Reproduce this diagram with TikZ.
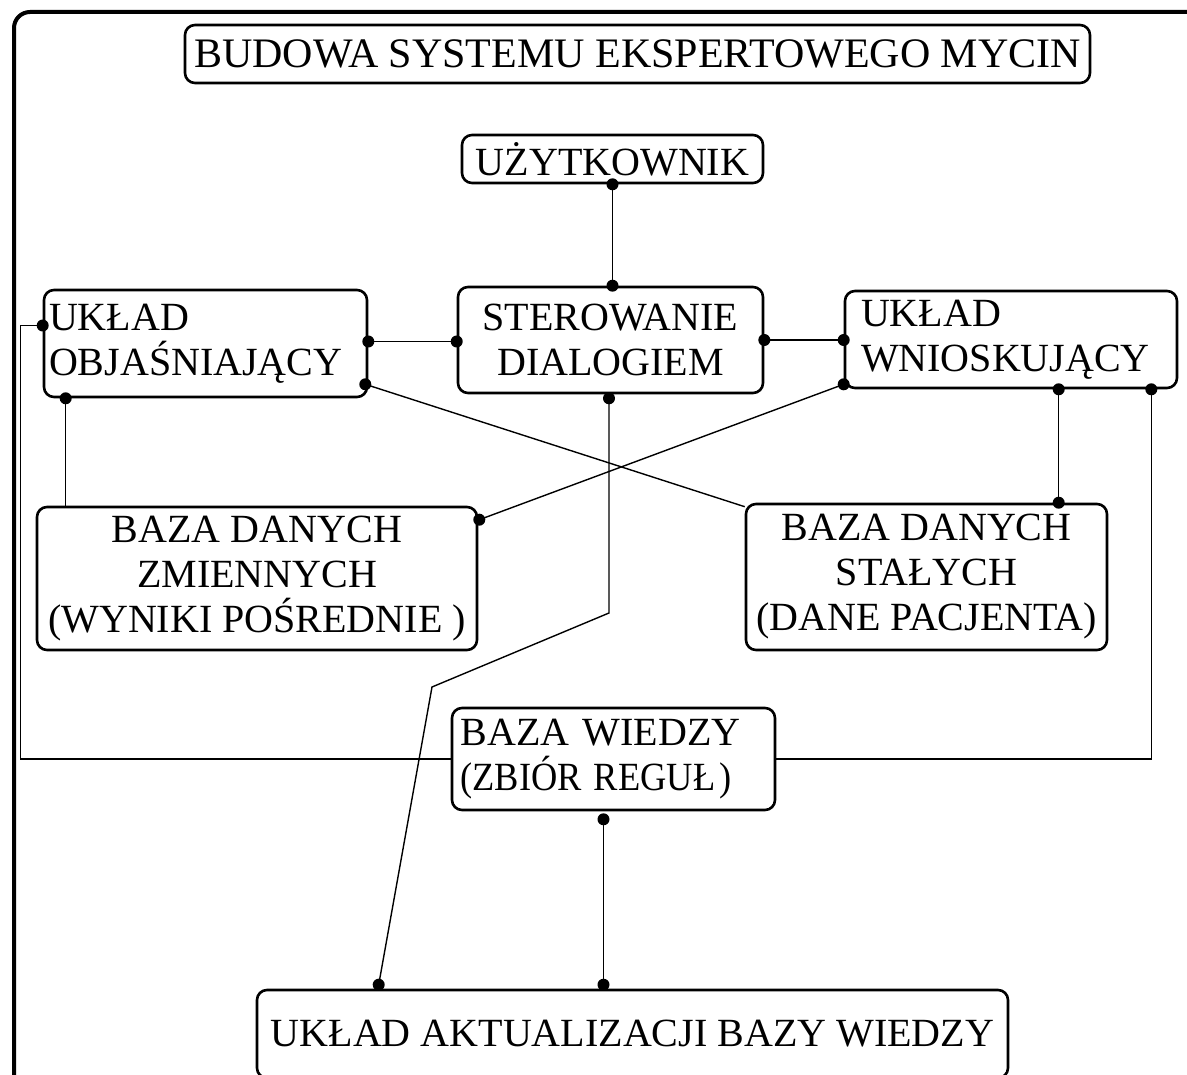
\documentclass[tikz,border=0pt]{standalone}
\usepackage{fontspec}
\setmainfont{Liberation Serif}
\usetikzlibrary{calc}
\begin{document}
\begin{tikzpicture}[x=1pt,y=-1pt,
  box/.style={draw, line width=2.6pt, rounded corners=10pt, inner sep=0pt, fill=white,
    font=\fontsize{40}{45}\selectfont},
  conn/.style={line width=1.4pt},
  frame/.style={line width=4pt, rounded corners=16pt}]
\useasboundingbox (0,0) rectangle (1187,1075);
\fill[white] (0,0) rectangle (1187,1075);
\draw[frame] (14,1110) -- (14,12) -- (1220,12);

% boxes
\node[box, minimum width=905pt, minimum height=58pt, font=\fontsize{42}{45}\selectfont] (title) at (637.5,54) {BUDOWA SYSTEMU EKSPERTOWEGO MYCIN};
\node[box, minimum width=301pt, minimum height=48pt] (user) at (612.5,159) {UŻYTKOWNIK};
\node[box, minimum width=305pt, minimum height=106pt, align=center] (ster) at (610.5,340) {STEROWANIE\\DIALOGIEM};
\node[box, minimum width=323pt, minimum height=107pt, text width=313pt, align=left] (obj) at (205.5,343.5) {UKŁAD\\OBJAŚNIAJĄCY};
\node[box, minimum width=332pt, minimum height=97pt, text width=300pt, align=left] (wn) at (1011,339.5) {UKŁAD\\WNIOSKUJĄCY};
\node[box, minimum width=440pt, minimum height=143pt, align=center] (bdz) at (257,578.5) {BAZA DANYCH\\ZMIENNYCH\\(WYNIKI POŚREDNIE )};
\node[box, minimum width=361pt, minimum height=146pt, align=center] (bds) at (926.5,577) {BAZA DANYCH\\STAŁYCH\\(DANE PACJENTA)};
\node[box, minimum width=323pt, minimum height=102pt, text width=306pt, align=left] (bw) at (613.5,759) {BAZA WIEDZY\\\scalebox{0.91}[1]{(ZBIÓR REGUŁ\hspace{0.12em})}};
\node[box, minimum width=751pt, minimum height=88pt, align=center] (akt) at (632.5,1034) {UKŁAD AKTUALIZACJI BAZY WIEDZY};

% connection points
\coordinate (uS) at (user.south);
\coordinate (sN) at (user.south |- ster.north);
\coordinate (oE) at ($(obj.east)+(0,-2)$);
\coordinate (sW) at (oE -| ster.west);
\coordinate (sE) at (ster.east);
\coordinate (wW) at (ster.east -| wn.west);
\coordinate (oS) at ($(obj.south west)+(23,0)$);
\coordinate (zN) at (oS |- bdz.north);
\coordinate (oSE) at ($(obj.south east)+(-3,-14)$);
\coordinate (tNW) at ($(bds.north west)+(0,4)$);
\coordinate (wSW) at ($(wn.south west)+(0,-5)$);
\coordinate (zNE) at ($(bdz.north east)+(1,14)$);
\coordinate (wS) at ($(wn.south west)+(215,0)$);
\coordinate (tN) at (wS |- bds.north);
\coordinate (sS) at ($(ster.south)+(-1.5,4)$);
\coordinate (k1) at (609,613);
\coordinate (k2) at (432,687);
\coordinate (aN1) at ($(akt.north west)+(123,-4)$);
\coordinate (wSE) at ($(wn.south east)+(-27,0)$);
\coordinate (oW) at ($(obj.west)+(0,-18)$);
\coordinate (bS) at ($(bw.south)+(-10,8)$);
\coordinate (aN2) at ($(bS |- akt.north)+(0,-4)$);

% connectors
\draw[conn] (uS) -- (sN);
\draw[conn] (oE) -- (sW);
\draw[conn] (sE) -- (wW);
\draw[conn] (oS) -- (zN);
\draw[conn] (oSE) -- (tNW);
\draw[conn] (wSW) -- (zNE);
\draw[conn] (wS) -- (tN);
\draw[conn] (sS) -- (k1) -- (k2) -- (aN1);
\draw[conn] (wSE) |- (bw.east);
\draw[conn] (oW) -- ++(-22,0) |- (bw.west);
\draw[conn] (bS) -- (aN2);

% dots
\foreach \p in {uS,sN,oE,sW,sE,wW,oS,oSE,wSW,zNE,wS,tN,sS,aN1,wSE,oW,bS,aN2}
  \fill (\p) circle (6pt);
\end{tikzpicture}
\end{document}
